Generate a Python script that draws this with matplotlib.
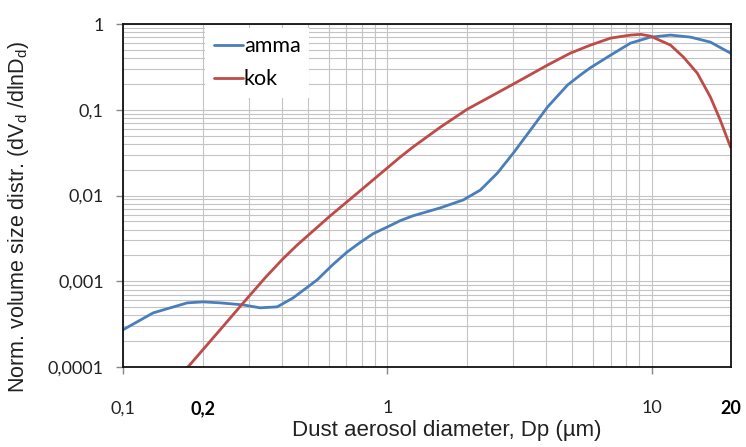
"""Dust aerosol volume size distributions (amma vs kok), log-log."""
import matplotlib
matplotlib.use("Agg")
import matplotlib.pyplot as plt
from matplotlib.ticker import FixedLocator, NullFormatter, LogLocator

plt.rcParams.update({
    "mathtext.fontset": "custom",
    "mathtext.rm": "Liberation Sans",
    "mathtext.it": "Liberation Sans:italic",
})

# amma curve
amma_d = [0.1, 0.13, 0.175, 0.201, 0.233, 0.285, 0.33, 0.383, 0.44, 0.543,
          0.62, 0.705, 0.791, 0.885, 1.0, 1.12, 1.25, 1.59, 1.94, 2.25,
          2.61, 3.0, 3.48, 4.04, 4.81, 5.38, 5.87, 7.0, 8.32, 9.9,
          11.8, 14.06, 16.7, 19.9]
amma_v = [2.72e-4, 4.28e-4, 5.6e-4, 5.75e-4, 5.6e-4, 5.3e-4, 4.9e-4, 5.03e-4, 6.4e-4, 1.04e-3,
          1.55e-3, 2.2e-3, 2.85e-3, 3.6e-3, 4.3e-3, 5.1e-3, 5.8e-3, 7.2e-3, 8.9e-3, 0.0116,
          0.0183, 0.0314, 0.058, 0.108, 0.195, 0.255, 0.31, 0.435, 0.60, 0.705,
          0.745, 0.705, 0.617, 0.459]

# kok curve
kok_d = [0.176, 0.233, 0.285, 0.345, 0.40, 0.456, 0.608, 0.811, 1.12, 1.25,
         1.59, 2.01, 2.52, 3.19, 4.04, 4.93, 5.87, 7.0, 8.32, 9.1,
         9.9, 11.8, 13.2, 14.9, 16.7, 18.2, 19.9]
kok_v = [1.0e-4, 2.72e-4, 5.6e-4, 1.10e-3, 1.79e-3, 2.65e-3, 5.8e-3, 0.0122, 0.0282, 0.0368,
         0.063, 0.102, 0.149, 0.222, 0.333, 0.459, 0.569, 0.687, 0.745, 0.76,
         0.725, 0.569, 0.413, 0.268, 0.141, 0.076, 0.0368]

x_ticks = [0.1, 0.2, 1, 10, 20]
x_labels = ["0,1", "0,2", "1", "10", "20"]
x_bold = ["0,2", "20"]
y_ticks = [0.0001, 0.001, 0.01, 0.1, 1]
y_labels = ["0,0001", "0,001", "0,01", "0,1", "1"]

BLUE = "#4a7ebb"
RED = "#be4b48"
GRID = "#c4c4c4"
TICK_FONT = "Lato"
LABEL_FONT = "Liberation Sans"

fig = plt.figure(figsize=(7.46, 4.47), dpi=100)
ax = fig.add_axes([0.165, 0.179, 0.815, 0.767])

ax.plot(amma_d, amma_v, color=BLUE, lw=2.0, label="amma",
        solid_capstyle="round", solid_joinstyle="round")
ax.plot(kok_d, kok_v, color=RED, lw=2.0, label="kok",
        solid_capstyle="round", solid_joinstyle="round")

ax.set_xscale("log")
ax.set_yscale("log")
ax.set_xlim(0.1, 20)
ax.set_ylim(0.0001, 1)

ax.xaxis.set_major_locator(FixedLocator(x_ticks))
ax.set_xticklabels(x_labels)
ax.xaxis.set_minor_locator(LogLocator(base=10, subs=range(2, 10)))
ax.xaxis.set_minor_formatter(NullFormatter())
ax.yaxis.set_major_locator(FixedLocator(y_ticks))
ax.set_yticklabels(y_labels)
ax.yaxis.set_minor_locator(LogLocator(base=10, subs=range(2, 10)))
ax.yaxis.set_minor_formatter(NullFormatter())

ax.tick_params(axis="x", which="major", length=5, width=1, color="#888888",
               pad=19, labelsize=13, labelcolor="#222222")
ax.tick_params(axis="y", which="major", length=5, width=1, color="#888888",
               pad=9, labelsize=13, labelcolor="#222222")
ax.tick_params(which="minor", length=0)
for lab in ax.get_xticklabels() + ax.get_yticklabels():
    lab.set_fontfamily(TICK_FONT)
    if lab.get_text() in x_bold:
        lab.set_fontweight("bold")
        lab.set_color("black")
for t, v in zip(ax.xaxis.get_major_ticks(), x_ticks):
    if v in (0.2, 20):
        t.tick1line.set_visible(False)

ax.grid(True, which="both", color=GRID, lw=0.8)
ax.set_axisbelow(True)
for s in ax.spines.values():
    s.set_color("#111111")
    s.set_linewidth(1.3)

ax.set_xlabel("Dust aerosol diameter, Dp (µm)", fontsize=16,
              fontfamily=LABEL_FONT, color="#222222")
ax.xaxis.set_label_coords(0.533, -0.155)
ax.set_ylabel("Norm. volume size distr. (dV$_\\mathrm{d}$ /dlnD$_\\mathrm{d}$)",
              fontsize=15.5, fontfamily=LABEL_FONT, color="#222222")
ax.yaxis.set_label_coords(-0.152, 0.437)

leg = ax.legend(loc="upper left", bbox_to_anchor=(0.135, 0.99), frameon=True,
                fancybox=False, framealpha=1, edgecolor="none",
                handlelength=1.35, handletextpad=0.05, labelspacing=0.6,
                borderaxespad=0, borderpad=0.4,
                prop={"family": TICK_FONT, "size": 15.5})
leg.get_frame().set_facecolor("white")

fig.savefig("out.png", dpi=100)
